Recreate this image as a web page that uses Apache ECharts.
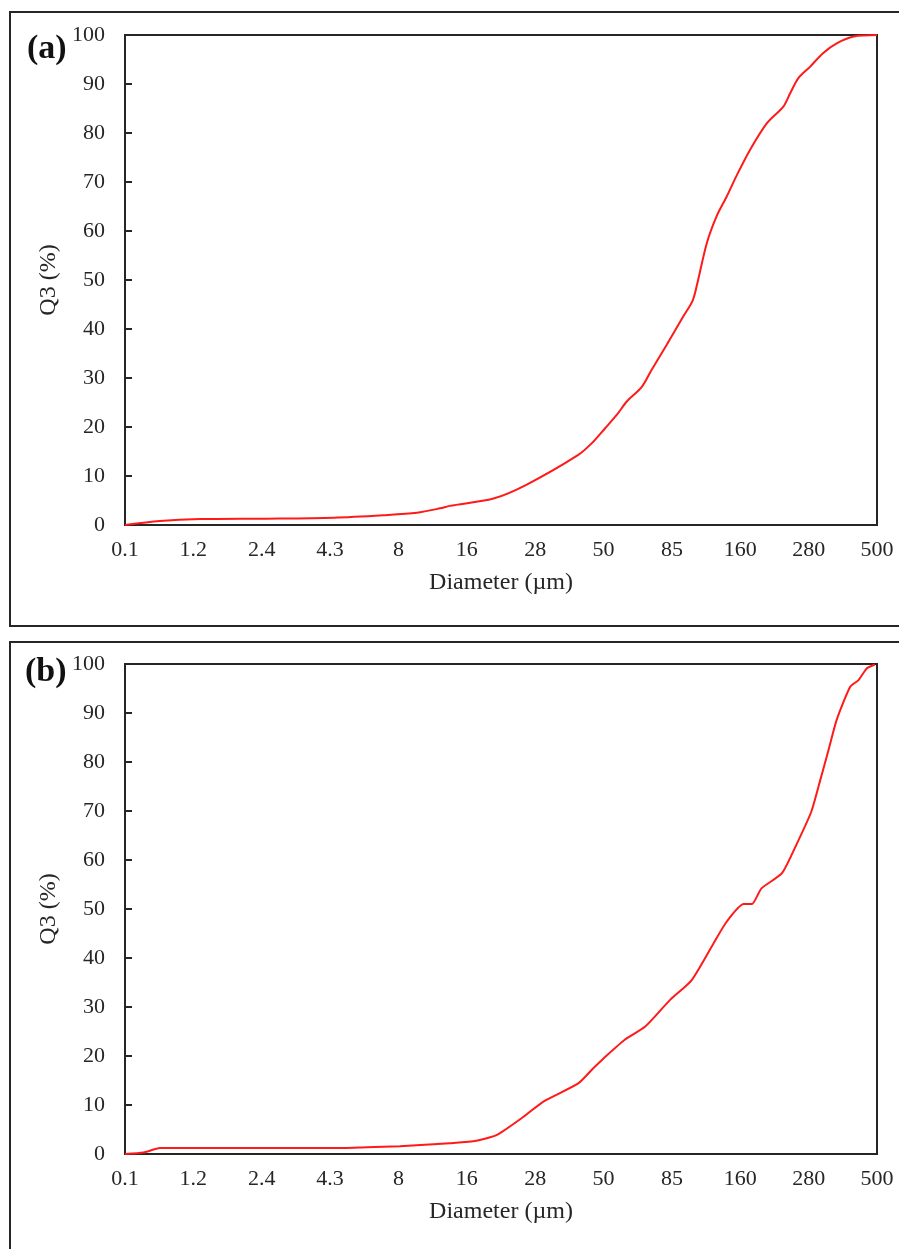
<!DOCTYPE html>
<html lang="en">
<head>
    <meta charset="utf-8">
    <title>Q3 particle size distribution</title>
    <script src="https://cdn.jsdelivr.net/npm/echarts@6/dist/echarts.min.js"></script>
    <style type="text/css">
    html, body {
        margin: 0;
        padding: 0;
        background: #fff;
    }

    #chart {
        width: 899px;
        height: 1249px;
    }
    </style>
</head>
<body>
    <div id="chart"></div>
    <script type="text/javascript">
    // tick labels of the diameter axis (equally spaced classes)
    var diameterLabels = ['0.1', '1.2', '2.4', '4.3', '8', '16', '28', '50', '85', '160', '280', '500'];

    // (a) position along the class axis, and cumulative Q3 (%)
    var posA = [0, 0.51, 1.1, 2.07, 3.05, 3.78, 4.27, 4.61, 4.75, 5.39, 5.87, 6.63, 6.85, 7.02, 7.19, 7.34,
        7.56, 7.7, 7.92, 8.15, 8.3, 8.36, 8.51, 8.65, 8.8, 8.95, 9.14, 9.39, 9.63, 9.73, 9.85, 10.02,
        10.21, 10.41, 10.66, 11];
    var q3A = [0, 0.8, 1.2, 1.3, 1.5, 2.0, 2.5, 3.4, 3.9, 5.4, 8.2, 14.3, 17.0, 19.7, 22.4, 25.2,
        28.2, 31.6, 36.7, 42.2, 45.7, 48.6, 57.5, 62.9, 67.0, 71.4, 76.5, 82.0, 85.4, 88.1, 91.2, 93.5,
        96.3, 98.3, 99.7, 100];

    // (b)
    var posB = [0, 0.27, 0.51, 3.05, 3.54, 4.02, 4.51, 4.75, 5.14, 5.44, 5.83, 6.12, 6.63, 6.85, 7.0,
        7.31, 7.61, 7.97, 8.29, 8.61, 8.8, 9.05, 9.17, 9.31, 9.61, 9.83, 10.04, 10.17, 10.29, 10.41,
        10.61, 10.73, 10.85, 10.97];
    var q3B = [0, 0.3, 1.2, 1.2, 1.4, 1.6, 2.0, 2.2, 2.7, 3.9, 7.6, 10.7, 14.4, 17.5, 19.5,
        23.3, 26.0, 31.4, 35.5, 43.0, 47.4, 51.0, 51.0, 54.2, 57.3, 63.4, 69.9, 76.3, 82.4, 88.6,
        95.4, 96.7, 99.1, 99.9];

    var panelLetters = ['(a)', '(b)'];

    var serif = '"Liberation Serif", "Times New Roman", serif';
    var ink = '#262626';

    function pairs(xs, ys) {
        var out = [];
        for (var i = 0; i < xs.length; i++) {
            out.push([xs[i], ys[i]]);
        }
        return out;
    }

    var grids = [
        { left: 125, top: 35, width: 752, height: 490 },
        { left: 125, top: 664, width: 752, height: 490 }
    ];

    var xAxes = [], yAxes = [];
    for (var g = 0; g < 2; g++) {
        grids[g].show = true;
        grids[g].borderColor = ink;
        grids[g].borderWidth = 2;
        grids[g].outerBoundsMode = 'none';
        xAxes.push({
            type: 'value', gridIndex: g, min: 0, max: 11, interval: 1,
            name: 'Diameter (µm)', nameLocation: 'middle', nameGap: 46,
            nameTextStyle: { fontFamily: serif, fontSize: 24, color: ink },
            axisLine: { lineStyle: { color: ink, width: 2 } },
            axisTick: { show: false },
            splitLine: { show: false },
            axisLabel: {
                margin: 14, fontFamily: serif, fontSize: 22, color: ink,
                formatter: function (v) { return diameterLabels[Math.round(v)]; }
            }
        });
        yAxes.push({
            type: 'value', gridIndex: g, min: 0, max: 100, interval: 10,
            name: 'Q3 (%)', nameLocation: 'middle', nameGap: 60,
            nameTextStyle: { fontFamily: serif, fontSize: 24, color: ink },
            axisLine: { show: true, lineStyle: { color: ink, width: 2 } },
            axisTick: { show: true, inside: true, length: 7, lineStyle: { color: ink, width: 2 } },
            splitLine: { show: false },
            axisLabel: { margin: 20, fontFamily: serif, fontSize: 22, color: ink }
        });
    }

    var chart = echarts.init(document.getElementById('chart'), null, { renderer: 'canvas' });

    chart.setOption({
        animation: false,
        backgroundColor: '#fff',
        grid: grids,
        xAxis: xAxes,
        yAxis: yAxes,
        graphic: [
            // outer panel frames
            { type: 'rect', shape: { x: 10, y: 12, width: 960, height: 614 },
              style: { fill: 'none', stroke: ink, lineWidth: 2 } },
            { type: 'rect', shape: { x: 10, y: 642, width: 960, height: 700 },
              style: { fill: 'none', stroke: ink, lineWidth: 2 } },
            { type: 'text', left: 27, top: 32,
              style: { text: panelLetters[0], font: 'bold 34px ' + serif, fill: '#111' } },
            { type: 'text', left: 25, top: 655,
              style: { text: panelLetters[1], font: 'bold 34px ' + serif, fill: '#111' } }
        ],
        series: [
            {
                type: 'line', xAxisIndex: 0, yAxisIndex: 0,
                data: pairs(posA, q3A), smooth: 0.3, showSymbol: false,
                lineStyle: { color: '#ff1a1a', width: 2 }
            },
            {
                type: 'line', xAxisIndex: 1, yAxisIndex: 1,
                data: pairs(posB, q3B), smooth: 0.2, showSymbol: false,
                lineStyle: { color: '#ff1a1a', width: 2 }
            }
        ]
    });
    </script>
</body>
</html>
